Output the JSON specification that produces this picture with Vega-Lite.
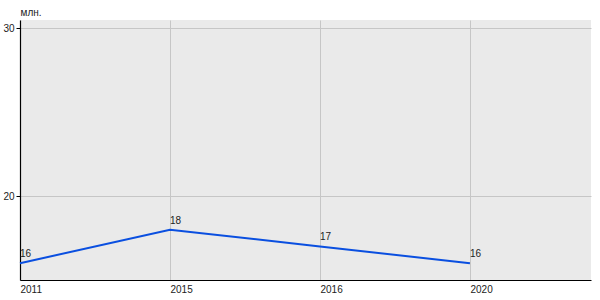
{
  "$schema": "https://vega.github.io/schema/vega-lite/v6.json",
  "autosize": "none",
  "width": 571,
  "height": 260,
  "padding": {"left": 20, "top": 20, "right": 9, "bottom": 20},
  "background": "white",
  "config": {
    "view": {"fill": "#eaeaea", "stroke": null},
    "font": "Liberation Sans"
  },
  "data": {
    "values": [
      {"year": "2011", "value": 16},
      {"year": "2015", "value": 18},
      {"year": "2016", "value": 17},
      {"year": "2020", "value": 16}
    ]
  },
  "encoding": {
    "x": {
      "field": "year",
      "type": "ordinal",
      "sort": null,
      "scale": {"type": "point", "padding": 0.4035, "align": 0},
      "axis": {
        "title": null,
        "labelAngle": 0,
        "labelAlign": "left",
        "labelFontSize": 10,
        "labelColor": "#222",
        "labelPadding": 4,
        "domainColor": "#000",
        "domainWidth": 1.2,
        "ticks": false,
        "grid": true,
        "gridColor": "#c6c6c6",
        "gridWidth": 1
      }
    },
    "y": {
      "field": "value",
      "type": "quantitative",
      "scale": {"domain": [15, 30.5], "nice": false, "zero": false},
      "axis": {
        "title": "млн.",
        "titleAngle": 0,
        "titleAlign": "left",
        "titleBaseline": "alphabetic",
        "titleX": 0,
        "titleY": -5,
        "titleFontSize": 10,
        "titleFontWeight": "normal",
        "titleColor": "#222",
        "values": [20, 30],
        "labelFontSize": 10,
        "labelColor": "#222",
        "labelPadding": 2,
        "domainColor": "#000",
        "domainWidth": 1.2,
        "tickColor": "#000",
        "tickSize": 4,
        "grid": true,
        "gridColor": "#c6c6c6",
        "gridWidth": 1
      }
    }
  },
  "layer": [
    {
      "mark": {"type": "line", "color": "#0a4fe0", "strokeWidth": 2, "clip": false}
    },
    {
      "mark": {"type": "text", "align": "left", "baseline": "bottom", "dy": -4, "fontSize": 10, "color": "#222"},
      "encoding": {"text": {"field": "value", "type": "quantitative"}}
    }
  ]
}
